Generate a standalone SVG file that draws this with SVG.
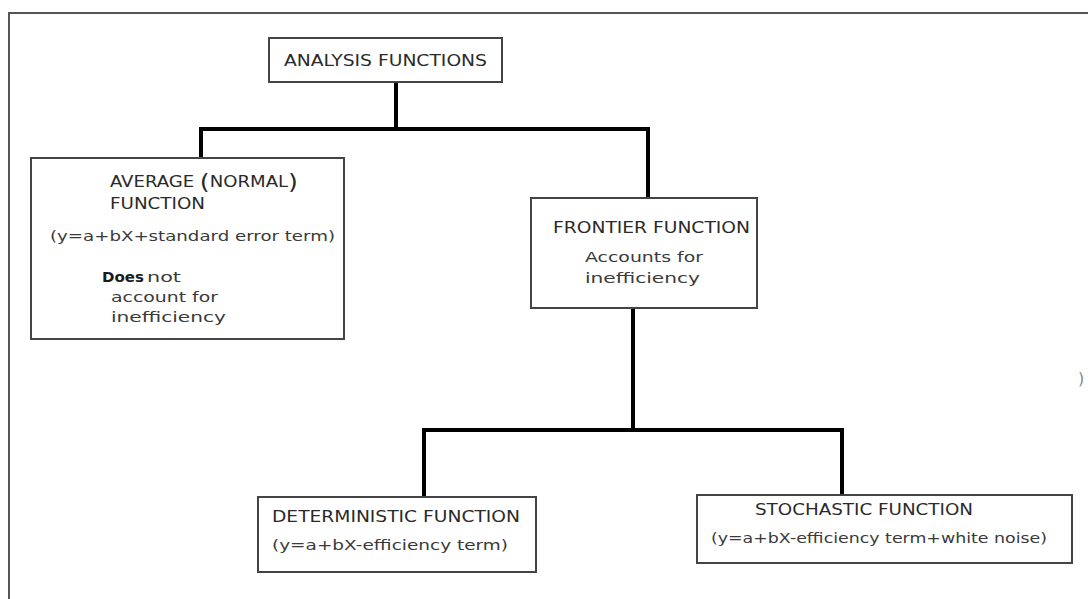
<svg xmlns="http://www.w3.org/2000/svg" width="1088" height="599" viewBox="0 0 1088 599">
  <style>
    .frame { fill: none; stroke: #555; stroke-width: 2; }
    .box { fill: #fff; stroke: #444; stroke-width: 2; }
    .link { fill: none; stroke: #000; stroke-width: 4; stroke-linecap: square; }
    .cap { font-family: "DejaVu Sans Condensed", "DejaVu Sans", sans-serif; font-size: 15px; fill: #2a2a2a; }
    .txt { font-family: "DejaVu Sans", "Verdana", sans-serif; font-size: 14px; fill: #3a3a3a; }
    .bold { font-weight: bold; fill: #1a1a1a; }
  </style>
  <rect width="1088" height="599" fill="#fff"/>
  <!-- page frame (open on right and bottom) -->
  <path class="frame" d="M9,599 V13 H1088"/>

  <g id="connectors">
    <path class="link" d="M396,82 V129"/>
    <path class="link" d="M201,129 H648"/>
    <path class="link" d="M201,129 V158"/>
    <path class="link" d="M648,129 V198"/>
    <path class="link" d="M633,308 V430"/>
    <path class="link" d="M424,430 H842"/>
    <path class="link" d="M424,430 V497"/>
    <path class="link" d="M842,430 V495"/>
  </g>

  <g id="analysis-functions">
    <rect class="box" x="269" y="38" width="233" height="44"/>
    <text class="cap" x="284" y="66" textLength="203" lengthAdjust="spacingAndGlyphs">ANALYSIS FUNCTIONS</text>
  </g>

  <g id="average-function">
    <rect class="box" x="31" y="158" width="313" height="181"/>
    <text class="cap" x="110" y="187" textLength="188" lengthAdjust="spacingAndGlyphs">AVERAGE <tspan font-size="21" dy="2">(</tspan><tspan dy="-2">NORMAL</tspan><tspan font-size="21" dy="2">)</tspan></text>
    <text class="cap" x="110" y="209" textLength="95" lengthAdjust="spacingAndGlyphs">FUNCTION</text>
    <text class="txt" x="50" y="241" textLength="285" lengthAdjust="spacingAndGlyphs">(y=a+bX+standard error term)</text>
    <text class="txt bold" x="102" y="282" textLength="42" lengthAdjust="spacingAndGlyphs">Does</text>
    <text class="txt" x="147" y="282" textLength="34" lengthAdjust="spacingAndGlyphs">not</text>
    <text class="txt" x="111" y="302" textLength="107" lengthAdjust="spacingAndGlyphs">account for</text>
    <text class="txt" x="111" y="322" textLength="115" lengthAdjust="spacingAndGlyphs">inefficiency</text>
  </g>

  <g id="frontier-function">
    <rect class="box" x="531" y="198" width="226" height="110"/>
    <text class="cap" x="553" y="233" textLength="197" lengthAdjust="spacingAndGlyphs">FRONTIER FUNCTION</text>
    <text class="txt" x="585" y="262" textLength="118" lengthAdjust="spacingAndGlyphs">Accounts for</text>
    <text class="txt" x="585" y="283" textLength="115" lengthAdjust="spacingAndGlyphs">inefficiency</text>
  </g>

  <g id="deterministic-function">
    <rect class="box" x="258" y="497" width="278" height="75"/>
    <text class="cap" x="272" y="522" textLength="248" lengthAdjust="spacingAndGlyphs">DETERMINISTIC FUNCTION</text>
    <text class="txt" x="272" y="550" textLength="236" lengthAdjust="spacingAndGlyphs">(y=a+bX-efficiency term)</text>
  </g>

  <g id="stochastic-function">
    <rect class="box" x="697" y="495" width="375" height="68"/>
    <text class="cap" x="755" y="515" textLength="218" lengthAdjust="spacingAndGlyphs">STOCHASTIC FUNCTION</text>
    <text class="txt" x="711" y="543" textLength="336" lengthAdjust="spacingAndGlyphs">(y=a+bX-efficiency term+white noise)</text>
  </g>

  <text x="1078" y="384" font-family="DejaVu Sans, sans-serif" font-size="16" fill="#888">)</text>
</svg>
